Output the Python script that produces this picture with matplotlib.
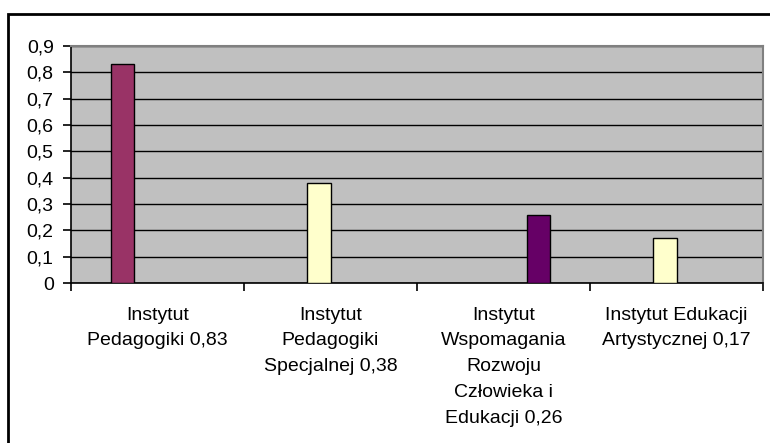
import matplotlib.pyplot as plt
import matplotlib.patches as patches
import numpy as np

plt.rcParams['font.family'] = ['Liberation Sans', 'DejaVu Sans']

# dane
categories = ['Instytut\nPedagogiki 0,83',
              'Instytut\nPedagogiki\nSpecjalnej 0,38',
              'Instytut\nWspomagania\nRozwoju\nCzłowieka i\nEdukacji 0,26',
              'Instytut Edukacji\nArtystycznej 0,17']
values = [0.83, 0.38, 0.26, 0.17]
slots = [0, 1, 3, 1]          # pozycja słupka w grupie (4 serie)
colors = ['#993366', '#FFFFCC', '#660066', '#FFFFCC']
y_ticks = [0, 0.1, 0.2, 0.3, 0.4, 0.5, 0.6, 0.7, 0.8, 0.9]
y_labels = ['0', '0,1', '0,2', '0,3', '0,4', '0,5', '0,6', '0,7', '0,8', '0,9']

fig = plt.figure(figsize=(7.7, 4.43), dpi=100)
ax = fig.add_axes([71/770, 1 - 283/443, 692/770, 237/443])

w = 0.133
x = np.arange(len(categories)) + (np.array(slots) - 1.5) * w
ax.set_facecolor('#C0C0C0')
ax.set_axisbelow(True)
ax.yaxis.grid(True, color='black', linewidth=1.0)
ax.bar(x, values, width=w, color=colors, edgecolor='black', linewidth=1.0, zorder=3)

ax.set_xlim(-0.5, 3.5)
ax.set_ylim(0, 0.9)
ax.set_yticks(y_ticks)
ax.set_yticklabels(y_labels, fontsize=14)
ax.set_xticks(np.arange(len(categories)))
ax.set_xticklabels(categories, fontsize=14, linespacing=1.68)
ax.set_xticks(np.arange(-0.5, 3.6, 1), minor=True)
ax.tick_params(axis='x', which='major', length=0, pad=17)
ax.tick_params(axis='x', which='minor', length=6, width=1.2, color='black')
ax.tick_params(axis='y', length=6, width=1.2, color='black', pad=6.5)

for s in ['top', 'right']:
    ax.spines[s].set_color('#808080')
    ax.spines[s].set_linewidth(1.5)
for s in ['left', 'bottom']:
    ax.spines[s].set_color('black')
    ax.spines[s].set_linewidth(1.2)

# ramka wykresu
fig.patches.append(patches.Rectangle((8/770, -0.05), 1.0, 1 - 14/443 + 0.05,
                                     transform=fig.transFigure, fill=False,
                                     edgecolor='black', linewidth=2, clip_on=False))

fig.savefig('out.png', dpi=100)
